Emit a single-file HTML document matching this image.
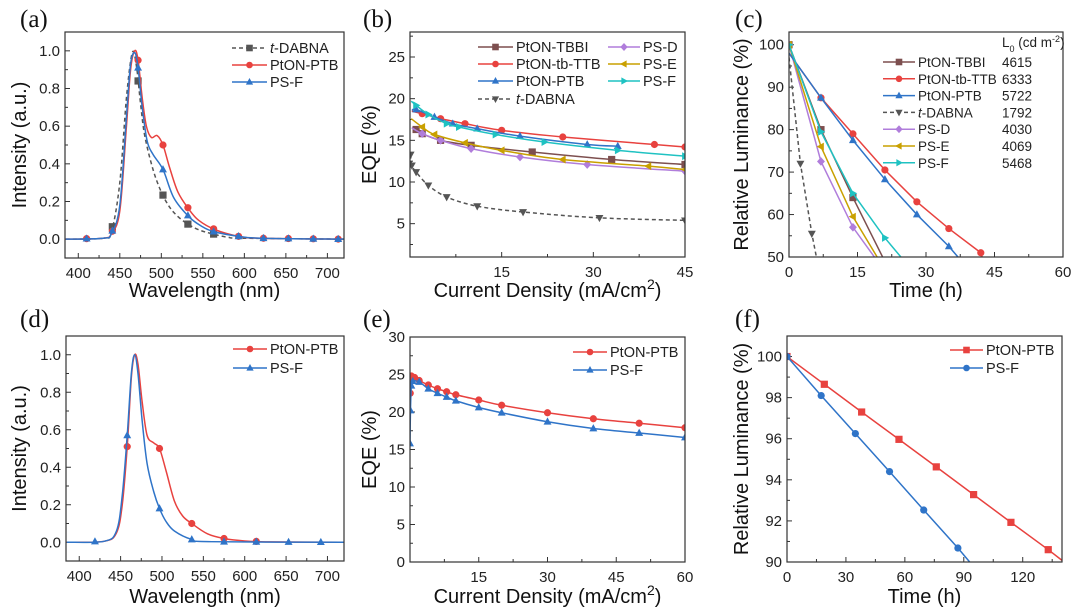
<!DOCTYPE html>
<html><head><meta charset="utf-8">
<style>
html,body{margin:0;padding:0;background:#fff;}
svg{display:block;font-family:"Liberation Sans",Arial,sans-serif;}
.tk{font-size:15px;fill:#222;}
.ttl{font-size:20px;fill:#111;}
.lg{font-size:14.5px;fill:#222;}
.lgc{font-size:13.5px;fill:#222;}
.pl{font-family:"Liberation Serif",serif;font-size:25px;fill:#111;}
</style></head>
<body>
<svg id="fig" width="1080" height="615" viewBox="0 0 1080 615"></svg>
<script>
// ---------- Panel (a) data ----------
const aTdX=[385,430,440,450,458,465,470,475,480,490,500,510,520,532,545,560,580,600,720];
const aTdY=[0,0.005,0.04,0.3,0.75,0.99,0.92,0.72,0.55,0.37,0.25,0.17,0.12,0.08,0.05,0.03,0.01,0.005,0];
const aPtX=[385,430,440,450,458,463,468,472,477,482,488,495,502,510,520,533,545,565,593,620,720];
const aPtY=[0,0.005,0.03,0.15,0.6,0.9,1.0,0.95,0.75,0.6,0.54,0.55,0.5,0.38,0.25,0.16,0.1,0.05,0.015,0.005,0];
const aPsX=[385,430,440,450,458,463,468,472,477,483,490,502,515,533,548,563,593,620,720];
const aPsY=[0,0.005,0.03,0.18,0.65,0.93,0.99,0.91,0.7,0.52,0.45,0.37,0.22,0.12,0.07,0.04,0.015,0.005,0];
const aTdMk=[441,472,502,532,563];
const aMk=[410,441,472,502,532,563,593,623,653,683,713];
// ---------- Panel (b) data ----------
const bTbX=[0.3,1,2,5,10,20,33,45], bTbY=[16.5,16.3,15.8,15,14.4,13.6,12.7,12.1];
const bTtX=[0.3,2,5,9,15,25,40,45], bTtY=[18.5,18.2,17.6,17,16.2,15.4,14.5,14.2];
const bPtX=[0.3,1,4,7,11,18,29,34], bPtY=[18.6,18.7,17.8,17,16.4,15.5,14.5,14.3];
const bPdX=[0.3,2,5,10,18,29,45], bPdY=[16.5,15.8,15,14,13,12.1,11.3];
const bPeX=[0.2,2,4,9,15,25,39,45], bPeY=[17.6,16.6,15.7,14.7,13.8,12.7,11.9,11.5];
const bPfX=[0.2,1,3,6,8,14,22,34,45], bPfY=[19.7,19.2,18.1,17,16.6,15.7,14.8,13.8,13.1];
const bTdX=[0.1,0.3,1,3,6,11,18.5,31,45], bTdY=[13.3,12,11.2,9.6,8.2,7.1,6.4,5.7,5.4];
// ---------- Panel (c) data ----------
const cTbX=[0,7,14,20.5], cTbY=[100,80,64,50];
const cTtX=[0,7,14,21,28,35,42,42.3], cTtY=[98,87.5,79,70.5,63,56.7,51,50];
const cPtX=[0,7,14,21,28,35,37], cPtY=[98,87.5,77.5,68.3,60,52.5,50];
const cTdX=[0,2.5,5,6], cTdY=[97,72,55.5,50];
const cPdX=[0,7,14,18.7], cPdY=[100,72.5,57,50];
const cPeX=[0,7,14,19.3], cPeY=[100,76,59.5,50];
const cPfX=[0,7,14,21,24.5], cPfY=[100,79.5,65,54.5,50];
const cNames=["PtON-TBBI","PtON-tb-TTB","PtON-PTB","t-DABNA","PS-D","PS-E","PS-F"];
const cL0=["4615","6333","5722","1792","4030","4069","5468"];
// ---------- Panel (d) data ----------
const dPtX=[385,430,445,452,458,463,467,471,476,482,490,497,505,515,525,536,555,575,600,630,720];
const dPtY=[0,0.005,0.05,0.2,0.51,0.88,1.0,0.95,0.75,0.57,0.53,0.5,0.38,0.22,0.14,0.1,0.045,0.02,0.007,0.002,0];
const dPsX=[385,430,445,452,458,463,467,471,476,482,490,497,505,515,536,560,720];
const dPsY=[0,0.005,0.06,0.25,0.57,0.9,1.0,0.9,0.65,0.42,0.27,0.18,0.11,0.06,0.015,0.003,0];
const dPtMk=[458,497,536,575,614];
const dPsMk=[419,458,497,536,575,614,653,692];
// ---------- Panel (e) data ----------
const ePtX=[0.05,0.3,1,2,4,6,8,10,15,20,30,40,50,60];
const ePtY=[22.5,24.8,24.6,24.2,23.6,23.1,22.7,22.3,21.6,20.9,19.9,19.1,18.5,17.9];
const ePsX=[0,0.1,0.3,0.6,2,4,6,8,10,15,20,30,40,50,60];
const ePsY=[15.8,20.2,23.5,24.1,24,23.1,22.5,22,21.5,20.6,19.9,18.7,17.8,17.2,16.6];
// ---------- Panel (f) data ----------
const fPtX=[0,19,38,57,76,95,114,133,140], fPtY=[100,98.65,97.3,95.97,94.63,93.28,91.93,90.6,90.08];
const fPsX=[0,17.4,34.8,52.2,69.6,87,93], fPsY=[100,98.1,96.25,94.4,92.53,90.68,90.0];

const NS="http://www.w3.org/2000/svg";
const fig=document.getElementById('fig');
function el(tag,attrs,parent){const e=document.createElementNS(NS,tag);for(const k in attrs)e.setAttribute(k,attrs[k]);(parent||fig).appendChild(e);return e;}
const C={red:"#e8423f",blue:"#2f74c8",brown:"#7d4f4f",purple:"#b07ddb",gold:"#c9a000",cyan:"#1fc2c2",gray:"#555"};

function axes(box,xd,yd){
  const sx=v=>box.x0+(v-xd[0])/(xd[1]-xd[0])*(box.x1-box.x0);
  const sy=v=>box.y1-(v-yd[0])/(yd[1]-yd[0])*(box.y1-box.y0);
  return {sx,sy};
}
function smoothPath(xs,ys,sx,sy){
  const p=xs.map((x,i)=>[sx(x),sy(ys[i])]);
  let d="M"+p[0][0]+","+p[0][1];
  for(let i=0;i<p.length-1;i++){
    const p0=p[i-1]||p[i],p1=p[i],p2=p[i+1],p3=p[i+2]||p2;
    const c1=[p1[0]+(p2[0]-p0[0])/6,p1[1]+(p2[1]-p0[1])/6];
    const c2=[p2[0]-(p3[0]-p1[0])/6,p2[1]-(p3[1]-p1[1])/6];
    d+=" C"+c1+" "+c2+" "+p2;
  }
  return d;
}
function linePath(xs,ys,sx,sy){return xs.map((x,i)=>(i?"L":"M")+sx(x)+","+sy(ys[i])).join(" ");}
function interp(xs,ys,x){for(let i=0;i<xs.length-1;i++){if(x>=xs[i]&&x<=xs[i+1]){return ys[i]+(ys[i+1]-ys[i])*(x-xs[i])/(xs[i+1]-xs[i]);}}return ys[ys.length-1];}
function marker(g,shape,x,y,col,r){
  r=r||3.6;
  let m;
  if(shape==="circle")m=el('circle',{cx:x,cy:y,r:r},g);
  else if(shape==="square")m=el('rect',{x:x-r,y:y-r,width:2*r,height:2*r},g);
  else{
    let pts;
    if(shape==="up")pts=[[0,-r*1.2],[r*1.1,r*0.8],[-r*1.1,r*0.8]];
    else if(shape==="down")pts=[[0,r*1.2],[r*1.1,-r*0.8],[-r*1.1,-r*0.8]];
    else if(shape==="diamond")pts=[[0,-r*1.2],[r*1.1,0],[0,r*1.2],[-r*1.1,0]];
    else if(shape==="left")pts=[[-r*1.2,0],[r*0.8,-r*1.1],[r*0.8,r*1.1]];
    else pts=[[r*1.2,0],[-r*0.8,-r*1.1],[-r*0.8,r*1.1]];
    m=el('polygon',{points:pts.map(p=>(x+p[0])+","+(y+p[1])).join(" ")},g);
  }
  m.setAttribute('fill',col);
  
  
}
function frame(name,box,xd,yd,xt,xminor,yt,yminor,xfmt,yfmt,xLabel,yLabel,labelTxt,labelPos,xTitleY){
  const g=el('g',{});
  
  
  const {sx,sy}=axes(box,xd,yd);
  const ax=el('g',{stroke:"#333","stroke-width":1},g);
  
  
  for(let v=xminor[0];v<=xd[1]+1e-9;v+=xminor[1]){const X=sx(v);if(X<box.x0-0.1)continue;const major=xt.some(t=>Math.abs(t-v)<1e-6);el('line',{x1:X,x2:X,y1:box.y1,y2:box.y1-(major?5:3)},ax);}
  for(let v=yminor[0];v<=yd[1]+1e-9;v+=yminor[1]){const Y=sy(v);if(Y>box.y1+0.1)continue;const major=yt.some(t=>Math.abs(t-v)<1e-6);el('line',{x1:box.x0,x2:box.x0+(major?5:3),y1:Y,y2:Y},ax);}
  xt.forEach(v=>{const t=el('text',{x:sx(v),y:box.y1+20,"text-anchor":"middle",class:"tk"},g);t.textContent=xfmt(v);});
  yt.forEach(v=>{const t=el('text',{x:box.x0-5,y:sy(v)+5,"text-anchor":"end",class:"tk"},g);t.textContent=yfmt(v);});
  const xl=el('text',{x:(box.x0+box.x1)/2,y:xTitleY,"text-anchor":"middle",class:"ttl"},g);xl.innerHTML=xLabel;
  
  const yc=(box.y0+box.y1)/2;
  const yl=el('text',{x:yLabel[1],y:yc,"text-anchor":"middle",class:"ttl",transform:`rotate(-90 ${yLabel[1]} ${yc})`},g);yl.textContent=yLabel[0];
  
  const pl=el('text',{x:labelPos[0],y:labelPos[1],class:"pl"},g);pl.textContent=labelTxt;
  
  const clip="clip-"+name;
  const cp=el('clipPath',{id:clip},g);el('rect',{x:box.x0,y:box.y0,width:box.x1-box.x0,height:box.y1-box.y0},cp);
  const plot=el('g',{"clip-path":`url(#${clip})`},g);
  
  const fr=el('rect',{x:box.x0,y:box.y0,width:box.x1-box.x0,height:box.y1-box.y0,fill:"none",stroke:"#333","stroke-width":1.2},g);
  
  return {g,plot,sx,sy};
}
function series(P,name,xs,ys,col,smooth,dash,shape,mkXs,r){
  const s=el('g',{},P.plot);
  
  
  const d=smooth?smoothPath(xs,ys,P.sx,P.sy):linePath(xs,ys,P.sx,P.sy);
  el('path',{d:d,fill:"none",stroke:col,"stroke-width":1.5,"stroke-dasharray":dash||"none"},s);
  mkXs.forEach(x=>marker(s,shape,P.sx(x),P.sy(interp(xs,ys,x)),col,r));
}
function legend(P,name,x1,x2,y,col,dash,shape,label,italicT,cls){
  const l=el('g',{},P.g);
  
  
  el('line',{x1:x1,x2:x2,y1:y,y2:y,stroke:col,"stroke-width":1.5,"stroke-dasharray":dash||"none"},l);
  marker(l,shape,(x1+x2)/2,y,col,3.3);
  const t=el('text',{x:x2+3,y:y+5,class:cls||"lg"},l);
  if(italicT){t.innerHTML='<tspan font-style="italic">t</tspan>-DABNA';}else t.textContent=label;
}
const f1=v=>v.toFixed(1), f0=v=>String(v);

// (a)
let A=frame('panel-a-spectra',{x0:65,x1:344,y0:32,y1:258},[384,720],[-0.1,1.1],[400,450,500,550,600,650,700],[400,25],[0,0.2,0.4,0.6,0.8,1.0],[-0.1,0.1],f0,f1,"Wavelength (nm)",["Intensity (a.u.)",26],"(a)",[20,27],297);
series(A,'series-t-dabna',aTdX,aTdY,C.gray,true,"4,3","square",aTdMk);
series(A,'series-pton-ptb',aPtX,aPtY,C.red,true,null,"circle",aMk);
series(A,'series-ps-f',aPsX,aPsY,C.blue,true,null,"up",aMk);
legend(A,'legend-t-dabna',232,267,48,C.gray,"4,3","square","",true);
legend(A,'legend-pton-ptb',232,267,65,C.red,null,"circle","PtON-PTB");
legend(A,'legend-ps-f',232,267,82,C.blue,null,"up","PS-F");

// (b)
let B=frame('panel-b-eqe',{x0:410,x1:685,y0:32,y1:257},[0,45],[1,28],[15,30,45],[7.5,7.5],[5,10,15,20,25],[2.5,2.5],f0,f0,'Current Density (mA/cm<tspan baseline-shift="super" font-size="14">2</tspan>)',["EQE (%)",376],"(b)",[363,27],297);
const idx=(xs)=>xs.slice(1);
series(B,'series-pton-tbbi',bTbX,bTbY,C.brown,true,null,"square",idx(bTbX));
series(B,'series-ps-d',bPdX,bPdY,C.purple,true,null,"diamond",idx(bPdX));
series(B,'series-ps-e',bPeX,bPeY,C.gold,true,null,"left",idx(bPeX));
series(B,'series-pton-tb-ttb',bTtX,bTtY,C.red,true,null,"circle",idx(bTtX));
series(B,'series-pton-ptb',bPtX,bPtY,C.blue,true,null,"up",idx(bPtX));
series(B,'series-ps-f',bPfX,bPfY,C.cyan,true,null,"right",idx(bPfX));
series(B,'series-t-dabna',bTdX,bTdY,C.gray,true,"4,3","down",bTdX);
legend(B,'legend-pton-tbbi',478,513,47,C.brown,null,"square","PtON-TBBI");
legend(B,'legend-pton-tb-ttb',478,513,64,C.red,null,"circle","PtON-tb-TTB");
legend(B,'legend-pton-ptb',478,513,81,C.blue,null,"up","PtON-PTB");
legend(B,'legend-t-dabna',478,513,99,C.gray,"4,3","down","",true);
legend(B,'legend-ps-d',608,640,47,C.purple,null,"diamond","PS-D");
legend(B,'legend-ps-e',608,640,64,C.gold,null,"left","PS-E");
legend(B,'legend-ps-f',608,640,81,C.cyan,null,"right","PS-F");

// (c)
let Cc=frame('panel-c-lifetime',{x0:789,x1:1063,y0:32,y1:257},[0,60],[50,103],[0,15,30,45,60],[0,7.5],[50,60,70,80,90,100],[50,5],f0,f0,"Time (h)",["Relative Luminance (%)",748],"(c)",[735,27],297);
const cm=xs=>xs.slice(1,-1);
series(Cc,'series-pton-tbbi',cTbX,cTbY,C.brown,false,null,"square",cm(cTbX).concat([0]));
series(Cc,'series-ps-d',cPdX,cPdY,C.purple,false,null,"diamond",cm(cPdX).concat([0]));
series(Cc,'series-ps-e',cPeX,cPeY,C.gold,false,null,"left",cm(cPeX).concat([0]));
series(Cc,'series-pton-tb-ttb',cTtX,cTtY,C.red,false,null,"circle",cm(cTtX));
series(Cc,'series-pton-ptb',cPtX,cPtY,C.blue,false,null,"up",cm(cPtX));
series(Cc,'series-t-dabna',cTdX,cTdY,C.gray,false,"4,3","down",cm(cTdX));
series(Cc,'series-ps-f',cPfX,cPfY,C.cyan,false,null,"right",cm(cPfX).concat([0]));
const cCols=[C.brown,C.red,C.blue,C.gray,C.purple,C.gold,C.cyan];
const cShapes=["square","circle","up","down","diamond","left","right"];
const cKeys=['pton-tbbi','pton-tb-ttb','pton-ptb','t-dabna','ps-d','ps-e','ps-f'];
const lh=el('text',{x:1002,y:47,class:"lgc","font-size":"12.5"},Cc.g);
lh.innerHTML='L<tspan baseline-shift="sub" font-size="9">0</tspan> (cd m<tspan baseline-shift="super" font-size="9">-2</tspan>)';

cNames.forEach((n,i)=>{
  const y=62+i*16.8;
  legend(Cc,'legend-'+cKeys[i],883,915,y,cCols[i],i===3?"4,3":null,cShapes[i],n,i===3,"lgc");
  const v=el('text',{x:1032,y:y+5,"text-anchor":"end",class:"lgc"},Cc.g);v.textContent=cL0[i];
  
});

// (d)
let D=frame('panel-d-spectra',{x0:66,x1:344,y0:336,y1:561},[384,720],[-0.1,1.1],[400,450,500,550,600,650,700],[400,25],[0,0.2,0.4,0.6,0.8,1.0],[-0.1,0.1],f0,f1,"Wavelength (nm)",["Intensity (a.u.)",26],"(d)",[20,327],603);
series(D,'series-pton-ptb',dPtX,dPtY,C.red,true,null,"circle",dPtMk);
series(D,'series-ps-f',dPsX,dPsY,C.blue,true,null,"up",dPsMk);
legend(D,'legend-pton-ptb',233,267,349,C.red,null,"circle","PtON-PTB");
legend(D,'legend-ps-f',233,267,368,C.blue,null,"up","PS-F");

// (e)
let E=frame('panel-e-eqe',{x0:410,x1:685,y0:337,y1:562},[0,60],[0,30],[15,30,45,60],[7.5,7.5],[0,5,10,15,20,25,30],[0,2.5],f0,f0,'Current Density (mA/cm<tspan baseline-shift="super" font-size="14">2</tspan>)',["EQE (%)",376],"(e)",[363,327],603);
series(E,'series-pton-ptb',ePtX,ePtY,C.red,true,null,"circle",ePtX);
series(E,'series-ps-f',ePsX,ePsY,C.blue,true,null,"up",ePsX);
legend(E,'legend-pton-ptb',573,607,352,C.red,null,"circle","PtON-PTB");
legend(E,'legend-ps-f',573,607,370,C.blue,null,"up","PS-F");

// (f)
let F=frame('panel-f-lifetime',{x0:787,x1:1062,y0:336,y1:562},[0,140],[90,101],[0,30,60,90,120],[0,15],[90,92,94,96,98,100],[90,1],f0,f0,"Time (h)",["Relative Luminance (%)",748],"(f)",[735,327],603);
series(F,'series-pton-ptb',fPtX,fPtY,C.red,false,null,"square",fPtX.slice(0,-1));
series(F,'series-ps-f',fPsX,fPsY,C.blue,false,null,"circle",fPsX.slice(0,-1));
legend(F,'legend-pton-ptb',950,983,350,C.red,null,"square","PtON-PTB");
legend(F,'legend-ps-f',950,983,368,C.blue,null,"circle","PS-F");
</script>
</body></html>
